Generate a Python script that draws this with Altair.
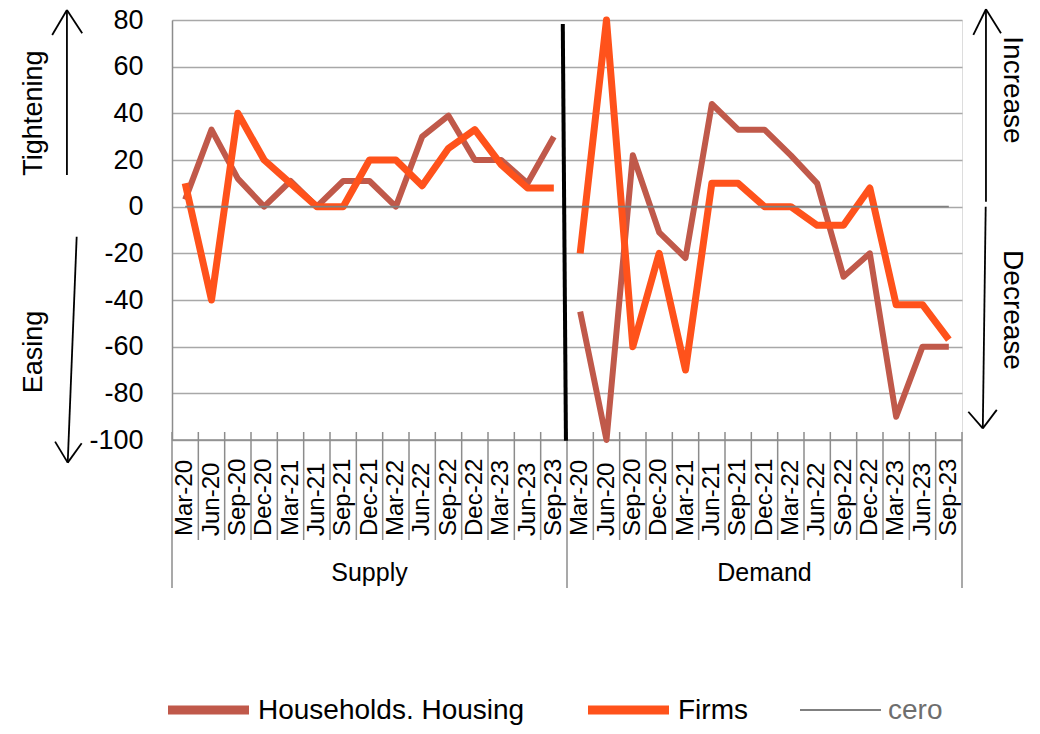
import altair as alt
import pandas as pd

FONT = "Liberation Sans"

categories = ["Mar-20", "Jun-20", "Sep-20", "Dec-20", "Mar-21", "Jun-21", "Sep-21", "Dec-21",
              "Mar-22", "Jun-22", "Sep-22", "Dec-22", "Mar-23", "Jun-23", "Sep-23"]
groups = ["Supply", "Demand"]

households_supply = [3, 33, 12, 0, 11, 0, 11, 11, 0, 30, 39, 20, 20, 10, 30]
firms_supply = [10, -40, 40, 20, 10, 0, 0, 20, 20, 9, 25, 33, 18, 8, 8]
households_demand = [-45, -100, 22, -11, -22, 44, 33, 33, 22, 10, -30, -20, -90, -60, -60]
firms_demand = [-20, 80, -60, -20, -70, 10, 10, 0, 0, -8, -8, 8, -42, -42, -57]

series_names = ["Households. Housing", "Firms", "cero"]
series_colors = ["#C0594A", "#FF521B", "#808080"]

y_ticks = [-100, -80, -60, -40, -20, 0, 20, 40, 60, 80]

# ---- long table of the series ----
rows = []
for gi, g in enumerate(groups):
    hh = households_supply if g == "Supply" else households_demand
    fm = firms_supply if g == "Supply" else firms_demand
    for ci, c in enumerate(categories):
        idx = gi * len(categories) + ci
        rows.append({"series": series_names[0], "group": g, "idx": idx, "cat": c, "value": hh[ci]})
        rows.append({"series": series_names[1], "group": g, "idx": idx, "cat": c, "value": fm[ci]})
        rows.append({"series": series_names[2], "group": "all", "idx": idx, "cat": c, "value": 0})
df = pd.DataFrame(rows)
n = len(categories) * len(groups)

cat_df = df[df["series"] == "cero"][["idx", "cat"]].reset_index(drop=True)
bounds = [b - 0.5 for b in range(n + 1)]
major = [-0.5, len(categories) - 0.5, n - 0.5]
minor_df = pd.DataFrame({"b": [b for b in bounds if b not in major]})
major_df = pd.DataFrame({"b": major})
group_df = pd.DataFrame({"group": groups,
                         "center": [(len(categories) - 1) / 2, len(categories) + (len(categories) - 1) / 2]})

xscale = alt.Scale(domain=[-0.5, n - 0.5], nice=False, zero=False)
yscale = alt.Scale(domain=[-100, 80], nice=False, zero=False)
yaxis = alt.Axis(values=y_ticks, grid=True, gridColor="#A8A8A8", gridWidth=1.5,
                 domainColor="#8C8C8C", domainWidth=1.5, ticks=False,
                 labelFontSize=27, labelColor="#000000", labelPadding=29,
                 labelFont=FONT, title=None, labelExpr="'' + datum.value")

X = alt.X("idx:Q", scale=xscale, axis=None)
Y = alt.Y("value:Q", scale=yscale, axis=yaxis)


def series_line(name, width, color):
    return alt.Chart(df).transform_filter(alt.datum.series == name).mark_line(
        strokeWidth=width, strokeCap="butt", strokeJoin="round", color=color
    ).encode(x=X, y=Y, detail="group:N", order="idx:Q")


hh_line = series_line(series_names[0], 6, series_colors[0])
fm_line = series_line(series_names[1], 7, series_colors[1])
cero_line = series_line(series_names[2], 1.6, series_colors[2])

# bottom axis line
axis_line = alt.Chart(pd.DataFrame({"a": [-0.5], "b": [n - 0.5], "v": [-100]})).mark_rule(
    color="#8C8C8C", strokeWidth=1.5).encode(
    x=alt.X("a:Q", scale=xscale, axis=None), x2="b:Q",
    y=alt.Y("v:Q", scale=yscale, axis=yaxis))

# category separators / ticks
minor_rules = alt.Chart(minor_df).mark_rule(color="#8C8C8C", strokeWidth=1.5).encode(
    x=alt.X("b:Q", scale=xscale, axis=None), y=alt.value(412), y2=alt.value(520))
major_rules = alt.Chart(major_df).mark_rule(color="#8C8C8C", strokeWidth=1.5).encode(
    x=alt.X("b:Q", scale=xscale, axis=None), y=alt.value(412), y2=alt.value(568))

cat_labels = alt.Chart(cat_df).mark_text(
    angle=270, align="left", baseline="middle", fontSize=24, font=FONT, color="#000000"
).encode(x=alt.X("idx:Q", scale=xscale, axis=None), y=alt.value(516), text="cat:N")

group_labels = alt.Chart(group_df).mark_text(
    align="center", baseline="middle", fontSize=25, font=FONT, color="#000000"
).encode(x=alt.X("center:Q", scale=xscale, axis=None), y=alt.value(553), text="group:N")

# divider between Supply and Demand
divider = alt.Chart(pd.DataFrame({"x": [14.34], "y": [78.3], "x2": [14.46], "y2": [-100.3]})).mark_rule(
    color="#000000", strokeWidth=4).encode(
    x=alt.X("x:Q", scale=xscale, axis=None), x2="x2:Q",
    y=alt.Y("y:Q", scale=yscale, axis=yaxis), y2="y2:Q")

# annotation arrows (data coordinates, outside the plot)
arrow_segments = pd.DataFrame({
    "x":  [-4.49, -5.05, -3.91, -4.12, -4.94, -3.93, 30.41, 29.93, 30.98, 30.40, 29.74, 30.82],
    "y":  [13.6, 73.6, 74.3, -12.9, -100.7, -101.4, 2.1, 73.6, 74.3, 0.0, -87.9, -87.1],
    "x2": [-4.49, -4.49, -4.49, -4.46, -4.46, -4.46, 30.41, 30.41, 30.41, 30.29, 30.29, 30.29],
    "y2": [84.3, 84.3, 84.3, -109.7, -109.7, -109.7, 84.6, 84.6, 84.6, -95.0, -95.0, -95.0],
})
arrows = alt.Chart(arrow_segments).mark_rule(color="#000000", strokeWidth=1.8).encode(
    x=alt.X("x:Q", scale=xscale, axis=None), x2="x2:Q",
    y=alt.Y("y:Q", scale=yscale, axis=yaxis), y2="y2:Q")

left_notes = pd.DataFrame({"label": ["Tightening", "Easing"], "x": [-5.74, -5.74], "y": [40.1, -62.3]})
right_notes = pd.DataFrame({"label": ["Increase", "Decrease"], "x": [31.40, 31.40], "y": [50.0, -44.3]})
notes_l = alt.Chart(left_notes).mark_text(
    angle=270, align="center", baseline="middle", fontSize=27, font=FONT, color="#000000"
).encode(x=alt.X("x:Q", scale=xscale, axis=None), y=alt.Y("y:Q", scale=yscale, axis=yaxis), text="label:N")
notes_r = alt.Chart(right_notes).mark_text(
    angle=90, align="center", baseline="middle", fontSize=28, font=FONT, color="#000000"
).encode(x=alt.X("x:Q", scale=xscale, axis=None), y=alt.Y("y:Q", scale=yscale, axis=yaxis), text="label:N")

# legend (drawn manually to reproduce the Excel layout)
legend_df = pd.DataFrame({"series": series_names})
SW_Y = 690
TX_Y = 699


def swatch(i, x0, x1, width):
    return alt.Chart(legend_df.iloc[[i]]).mark_rule(color=series_colors[i], strokeWidth=width).encode(
        x=alt.value(x0), x2=alt.value(x1), y=alt.value(SW_Y))


def leg_text(i, x0, color):
    return alt.Chart(legend_df.iloc[[i]]).mark_text(
        align="left", baseline="alphabetic", fontSize=28, font=FONT, color=color).encode(
        x=alt.value(x0), y=alt.value(TX_Y), text="series:N")


legend_layers = [
    swatch(0, -4, 77, 9), swatch(1, 416, 497, 9), swatch(2, 628, 709, 2),
    leg_text(0, 86, "#000000"), leg_text(1, 506, "#000000"), leg_text(2, 716, "#6E6E6E"),
]

chart = alt.layer(
    axis_line, minor_rules, major_rules, cat_labels, group_labels,
    hh_line, fm_line, cero_line, divider, arrows, notes_l, notes_r,
    *legend_layers,
).properties(
    width=790, height=420,
    autosize=alt.AutoSizeParams(type="none"),
    padding={"left": 164, "top": 12, "right": 70, "bottom": 286},
).configure_view(stroke=None).configure(font=FONT, background="#FFFFFF")

chart.save("out.html", embed_options={"renderer": "svg", "actions": False})
